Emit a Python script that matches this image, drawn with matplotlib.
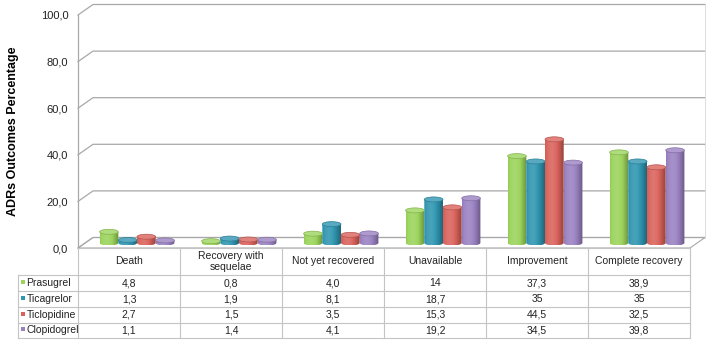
import numpy as np
import matplotlib
matplotlib.use("Agg")
import matplotlib.pyplot as plt
from matplotlib.patches import Ellipse, PathPatch, Polygon, Rectangle
from matplotlib.path import Path
from matplotlib.colors import to_rgb

plt.rcParams['font.family'] = ['Liberation Sans', 'DejaVu Sans']

categories = ["Death", "Recovery with\nsequelae", "Not yet recovered",
              "Unavailable", "Improvement", "Complete recovery"]
series = ["Prasugrel", "Ticagrelor", "Ticlopidine", "Clopidogrel"]
prasugrel = ["4,8", "0,8", "4,0", "14", "37,3", "38,9"]
ticagrelor = ["1,3", "1,9", "8,1", "18,7", "35", "35"]
ticlopidine = ["2,7", "1,5", "3,5", "15,3", "44,5", "32,5"]
clopidogrel = ["1,1", "1,4", "4,1", "19,2", "34,5", "39,8"]
colors = ["#9BD35B", "#2F95B0", "#D9625B", "#9A81C1"]
yticks = [0, 20, 40, 60, 80, 100]

rows = [prasugrel, ticagrelor, ticlopidine, clopidogrel]

W, H = 708, 340
fig = plt.figure(figsize=(W / 100, H / 100), dpi=100)

# main axes: front plane, value 0 at y=248px, 100 at y=15px
ax = fig.add_axes([78 / W, (H - 248) / H, 612 / W, 233 / H])
px_x = 6 / 612.0          # data units per pixel (x)
px_y = 100 / 233.0        # data units per pixel (y)
BDX, BDY = 15 * px_x, 10.5 * px_y   # back wall offset
MDX, MDY = 8 * px_x, 5 * px_y       # depth of bars
BW = 18.7 * px_x
EH = 5 * px_y
grid_c = "#A8A8A8"

# walls and floor
floor = Polygon([(0, 0), (6, 0), (6 + BDX, BDY), (BDX, BDY)], closed=True,
                facecolor="white", edgecolor=grid_c, lw=0.8, clip_on=False, zorder=1)
ax.add_patch(floor)
for v in yticks:
    ax.plot([0, BDX, 6 + BDX], [v, v + BDY, v + BDY], color=grid_c, lw=0.9,
            clip_on=False, zorder=1)
ax.plot([0, 0], [0, 100], color=grid_c, lw=0.9, clip_on=False, zorder=1)
ax.plot([6 + BDX, 6 + BDX], [BDY, 100 + BDY], color="#D8D8D8", lw=0.6,
        clip_on=False, zorder=1)


def shade(rgb, f):
    rgb = np.array(rgb)
    if f < 1:
        return rgb * f
    return rgb + (1 - rgb) * (f - 1)


def cylinder(cx, val, col):
    rgb = to_rgb(col)
    hw = BW / 2
    x0, x1 = cx - hw, cx + hw
    base, top = MDY, MDY + val
    xs = np.linspace(x0, x1, 40)
    arc = base - EH / 2 * np.sqrt(np.clip(1 - ((xs - cx) / hw) ** 2, 0, 1))
    verts = [(x0, top), (x0, base)] + list(zip(xs, arc)) + [(x1, top), (x0, top)]
    codes = [Path.MOVETO] + [Path.LINETO] * (len(verts) - 2) + [Path.CLOSEPOLY]
    body = PathPatch(Path(verts, codes), facecolor="none", edgecolor="none")
    ax.add_patch(body)
    t = np.linspace(0, 1, 60)
    f = 0.82 + 0.3 * np.cos((t - 0.35) * np.pi)
    grad = np.array([[shade(rgb, k) for k in f]])
    im = ax.imshow(np.clip(grad, 0, 1), extent=[x0, x1, base - EH / 2, top],
                   aspect='auto', interpolation='bilinear', zorder=3)
    im.set_clip_path(body)
    cap = Ellipse((cx, top), 2 * hw, EH, facecolor=shade(rgb, 1.2),
                  edgecolor=shade(rgb, 0.85), lw=0.5, zorder=4)
    ax.add_patch(cap)


for i in range(len(categories)):
    for j, r in enumerate(rows):
        val = float(r[i].replace(',', '.'))
        cx = i + 0.5 + MDX + (j - 1.5) * BW
        cylinder(cx, val, colors[j])

ax.set_xlim(0, 6)
ax.set_ylim(0, 100)
ax.set_yticks(yticks)
ax.set_yticklabels([f"{v:.1f}".replace('.', ',') for v in yticks], fontsize=8,
                   color="#222222")
ax.set_xticks([])
ax.tick_params(axis='y', length=0, pad=7)
for s in ax.spines.values():
    s.set_visible(False)
ax.patch.set_alpha(0)

fig.text(13 / W, (H - 131) / H, "ADRs Outcomes Percentage", rotation=90,
         fontsize=9, fontweight='bold', ha='center', va='center')

# data table below the chart, in pixel coordinates
tax = fig.add_axes([0, 0, 1, 1])
tax.set_xlim(0, W)
tax.set_ylim(H, 0)
tax.axis('off')
tax.patch.set_alpha(0)
tc = "#C4C4C4"
col_x = [78 + 102 * k for k in range(7)]
row_y = [275, 291, 307, 322.5, 338]
tax.plot([78, 690], [248, 248], color=tc, lw=0.8)
for y in row_y:
    tax.plot([18, 690], [y, y], color=tc, lw=0.8)
for x in col_x:
    tax.plot([x, x], [248, 338], color=tc, lw=0.8)
tax.plot([18, 18], [275, 338], color=tc, lw=0.8)

for i, c in enumerate(categories):
    tax.text(col_x[i] + 51, 261.5, c, ha='center', va='center', fontsize=7.5,
             linespacing=1.2, color="#222222")
for j, r in enumerate(rows):
    yc = (row_y[j] + row_y[j + 1]) / 2
    tax.add_patch(Rectangle((21, yc - 3), 4, 4, facecolor=colors[j], edgecolor='none'))
    tax.text(26.5, yc, series[j], ha='left', va='center', fontsize=7.5, color="#222222")
    for i, v in enumerate(r):
        tax.text(col_x[i] + 51, yc, v, ha='center', va='center', fontsize=7.5,
                 color="#222222")

fig.savefig("out.png", dpi=100)
